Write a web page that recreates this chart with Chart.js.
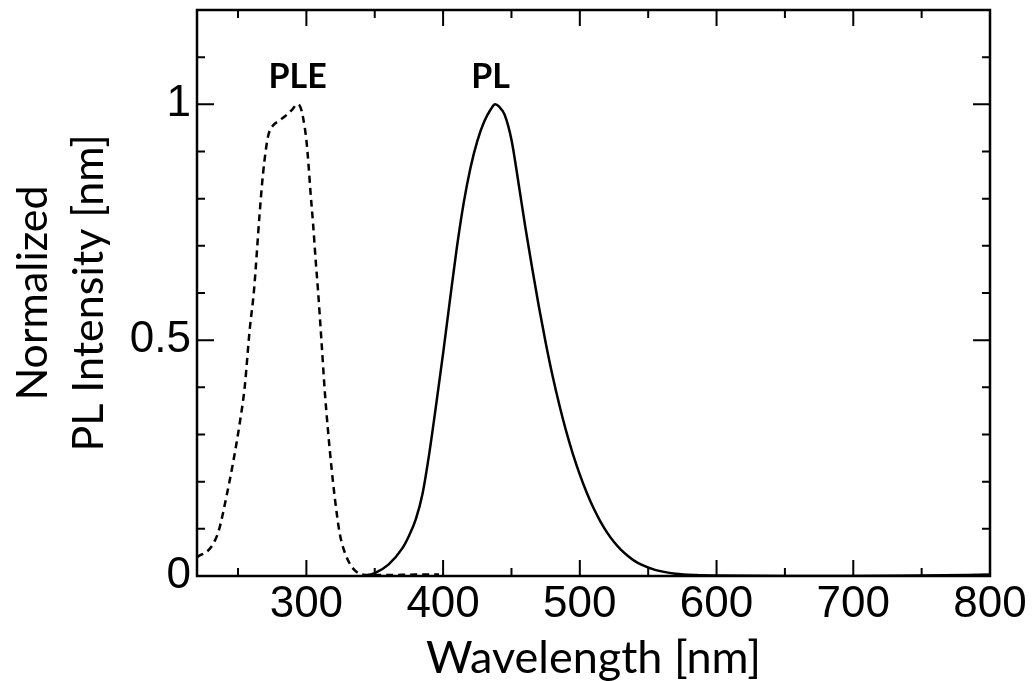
<!DOCTYPE html>
<html lang="en">
<head>
    <meta charset="UTF-8">
    <title>PL / PLE spectra</title>
    <style>
        body {
            margin: 0;
            background: #fff;
        }

        #wrap {
            width: 1033px;
            height: 681px;
        }
    </style>
    <script src="https://cdn.jsdelivr.net/npm/chart.js"></script>
</head>
<body>
    <div id="wrap"><canvas id="spectra"></canvas></div>
    <script>
        // PLE (excitation) spectrum, dashed
        const pleWavelength = [220, 230.5, 236, 241.5, 246.3, 251.2, 254.9, 258.5, 261.7, 265.8, 268.3, 271.9, 275.6, 280, 285.4, 290, 293, 295.5, 297.5, 300, 301.7, 302.9, 304.9, 306.8, 308.5, 311, 313.4, 315.8, 318.3, 320.7, 324.4, 329.3, 336.6, 346, 360, 380, 397];
        const pleIntensity = [0.04, 0.062, 0.097, 0.168, 0.239, 0.323, 0.401, 0.521, 0.606, 0.768, 0.853, 0.931, 0.955, 0.965, 0.977, 0.99, 1.0, 0.995, 0.973, 0.924, 0.867, 0.818, 0.747, 0.669, 0.606, 0.5, 0.394, 0.309, 0.232, 0.168, 0.09, 0.041, 0.009, 0.002, 0.002, 0.003, 0.003];

        // PL (emission) spectrum, solid
        const plWavelength = [342, 350, 360, 370, 375, 380, 385, 390, 395, 400, 405, 410, 415, 420, 425, 430, 435, 438, 441, 445, 450, 455, 460, 465, 470, 475, 480, 485, 490, 495, 500, 505, 510, 515, 520, 525, 530, 535, 540, 545, 555, 570, 585, 600, 650, 700, 750, 800];
        const plIntensity = [0, 0.006, 0.024, 0.058, 0.085, 0.12, 0.175, 0.262, 0.365, 0.472, 0.585, 0.695, 0.79, 0.865, 0.922, 0.963, 0.99, 1.0, 0.995, 0.978, 0.925, 0.836, 0.742, 0.655, 0.572, 0.495, 0.425, 0.363, 0.307, 0.258, 0.215, 0.177, 0.144, 0.116, 0.092, 0.072, 0.056, 0.043, 0.032, 0.024, 0.013, 0.005, 0.002, 0.001, 0, 0, 0.001, 0.003];

        const xMajor = [300, 400, 500, 600, 700, 800];
        const xMinor = [250, 350, 450, 550, 650, 750];
        const yMajor = [0, 0.5, 1];
        const yMinor = [0.1, 0.2, 0.3, 0.4, 0.6, 0.7, 0.8, 0.9, 1.1];

        const peakNames = ['PLE', 'PL'];
        const peakNameX = [293.6, 434.7];
        const peakNameY = [1.034, 1.034];

        const toPoints = (xs, ys) => xs.map((x, i) => ({ x: x, y: ys[i] }));

        // box frame, inward ticks on all four sides and the PLE / PL labels
        const frame = {
            id: 'frame',
            afterDatasetsDraw(chart) {
                const { ctx, chartArea: a, scales: { x, y } } = chart;
                ctx.save();
                ctx.strokeStyle = '#000';
                ctx.lineWidth = 2;
                ctx.beginPath();
                const xTick = (v, len) => {
                    const px = x.getPixelForValue(v);
                    ctx.moveTo(px, a.bottom); ctx.lineTo(px, a.bottom - len);
                    ctx.moveTo(px, a.top); ctx.lineTo(px, a.top + len);
                };
                const yTick = (v, len) => {
                    const py = y.getPixelForValue(v);
                    ctx.moveTo(a.left, py); ctx.lineTo(a.left + len, py);
                    ctx.moveTo(a.right, py); ctx.lineTo(a.right - len, py);
                };
                xMajor.forEach(v => xTick(v, 16));
                xMinor.forEach(v => xTick(v, 8));
                yMajor.forEach(v => yTick(v, 17));
                yMinor.forEach(v => yTick(v, 8));
                ctx.stroke();

                ctx.lineWidth = 2.5;
                ctx.strokeRect(a.left, a.top, a.width, a.height);

                ctx.fillStyle = '#000';
                ctx.font = 'bold 34px Lato';
                ctx.textAlign = 'center';
                ctx.textBaseline = 'alphabetic';
                peakNames.forEach((name, i) => {
                    ctx.fillText(name, x.getPixelForValue(peakNameX[i]), y.getPixelForValue(peakNameY[i]));
                });
                ctx.restore();
            }
        };

        const tickFont = { family: 'Liberation Sans', size: 44 };

        new Chart(document.getElementById('spectra'), {
            type: 'line',
            data: {
                datasets: [
                    {
                        label: 'PLE',
                        data: toPoints(pleWavelength, pleIntensity),
                        borderColor: '#000',
                        borderWidth: 2.5,
                        borderDash: [7, 5],
                        cubicInterpolationMode: 'monotone',
                        pointRadius: 0,
                        fill: false
                    },
                    {
                        label: 'PL',
                        data: toPoints(plWavelength, plIntensity),
                        borderColor: '#000',
                        borderWidth: 2.5,
                        cubicInterpolationMode: 'monotone',
                        pointRadius: 0,
                        fill: false
                    }
                ]
            },
            options: {
                responsive: true,
                maintainAspectRatio: false,
                animation: false,
                layout: {
                    padding: { top: 10, right: 43, left: 0, bottom: 0 },
                    autoPadding: false
                },
                plugins: {
                    legend: { display: false },
                    tooltip: { enabled: false }
                },
                scales: {
                    x: {
                        type: 'linear',
                        min: 220,
                        max: 800,
                        grid: { display: false, drawTicks: false },
                        border: { display: false },
                        afterBuildTicks: s => { s.ticks = xMajor.map(v => ({ value: v })); },
                        afterFit: s => { s.height = 105; s.paddingLeft = 0; s.paddingRight = 0; },
                        ticks: {
                            font: tickFont,
                            color: '#000',
                            padding: 2,
                            maxRotation: 0,
                            autoSkip: false,
                            callback: v => String(v)
                        },
                        title: {
                            display: true,
                            text: 'Wavelength [nm]',
                            font: { family: 'Lato', size: 45, lineHeight: 0.98 },
                            color: '#000',
                            padding: { top: 0, bottom: 0 }
                        }
                    },
                    y: {
                        type: 'linear',
                        min: 0,
                        max: 1.2,
                        grid: { display: false, drawTicks: false },
                        border: { display: false },
                        afterBuildTicks: s => { s.ticks = yMajor.map(v => ({ value: v })); },
                        afterFit: s => { s.width = 197; s.paddingTop = 0; s.paddingBottom = 0; },
                        ticks: {
                            font: tickFont,
                            color: '#000',
                            padding: 6,
                            autoSkip: false,
                            callback: v => String(v)
                        },
                        title: {
                            display: true,
                            text: ['Normalized', 'PL Intensity [nm]'],
                            font: { family: 'Lato', size: 43, lineHeight: 1.3 },
                            color: '#000',
                            padding: { top: 5, bottom: 0 }
                        }
                    }
                }
            },
            plugins: [frame]
        });
    </script>
</body>
</html>
